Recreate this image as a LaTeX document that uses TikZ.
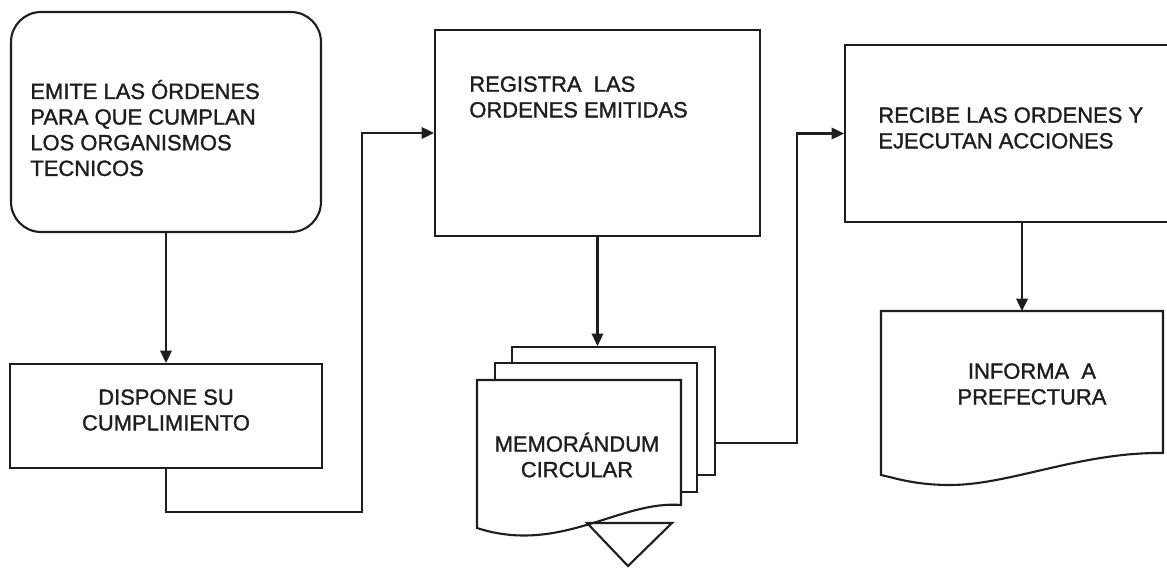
\documentclass[tikz,border=0pt]{standalone}
\usepackage{fontspec}
\setmainfont{Liberation Sans}[BoldFont=Liberation Sans, BoldFeatures={FakeBold=1.3}]
\usepackage{xcolor}
\usepackage{tikz}
\usetikzlibrary{
    arrows.meta,
    positioning
}
\definecolor{ink}{HTML}{1E1E1E}
\tikzstyle{box} = [
    rectangle, draw=ink,
    line width=1.2pt,
    inner sep=0pt,
    fill=white
]
\tikzstyle{txt} = [
    inner sep=0pt,
    text=ink,
    font=\fontsize{12.5}{14.6}\selectfont\bfseries
]
\tikzstyle{outline} = [
    draw=ink,
    line width=1.2pt,
    line join=miter
]
\tikzstyle{arrow} = [
    draw=ink,
    line width=1.2pt,
    ->,
    >={Triangle[length=7pt,width=6.5pt]}
]

\begin{document}
\begin{tikzpicture}[x=0.02cm, y=-0.02cm]
    \useasboundingbox (0,0) rectangle (1167,568);

    \node[box, rounded corners=0.6cm, minimum width=6.2cm, minimum height=4.4cm] (emite) at (166,122) {};
    \node[txt, anchor=west, align=left] (emitetxt) at (30,128) {EMITE LAS ÓRDENES\\PARA QUE CUMPLAN\\LOS ORGANISMOS\\TECNICOS};

    \node[box, minimum width=6.24cm, minimum height=2.08cm] (dispone) at (166,416) {};
    \node[txt, align=center] (disponetxt) at (166,410) {DISPONE SU\\CUMPLIMIENTO};

    \node[box, minimum width=6.5cm, minimum height=4.12cm] (registra) at (597.5,133) {};
    \node[txt, anchor=west, align=left] (registratxt) at (469,97) {REGISTRA\ \ LAS\\ORDENES EMITIDAS};

    \node[box, minimum width=7.08cm, minimum height=3.54cm] (recibe) at (1022,133.5) {};
    \node[txt, anchor=west, align=left] (recibetxt) at (878,128) {RECIBE LAS ORDENES Y\\EJECUTAN ACCIONES};

    \node[box, minimum width=4.06cm, minimum height=2.56cm] (memoback) at (613.5,411) {};
    \node[box, minimum width=4.04cm, minimum height=2.58cm] (memomid) at (596,427.5) {};
    \path[outline, fill=white] (477,380) -- (681,380) -- (681,505)
        .. controls (620,500) and (560,555) .. (477,528) -- cycle;
    \path[outline] (587,523) -- (672,523) -- (628,566) -- cycle;
    \node[txt, align=center] (memo) at (577,455) {MEMORÁNDUM\\CIRCULAR};

    \path[outline, fill=white] (881,311) -- (1163,311) -- (1163,453)
        .. controls (1080,452) and (1010,485) .. (950,485)
        .. controls (915,485) and (895,478) .. (881,475) -- cycle;
    \node[txt, align=center] (informa) at (1032,384) {INFORMA\ \ A\\PREFECTURA};

    \coordinate (j1) at (362,512);
    \coordinate (j2) at (797,443);
    \coordinate (doctop) at (1022,311);

    \draw[arrow] (emite.south) -- (dispone.north);
    \draw[arrow] (dispone.south) |- (j1) |- (registra.west);
    \draw[arrow] (registra.south) -- (registra.south |- memoback.north);
    \draw[arrow] (memoback.east |- j2) -- (j2) |- (recibe.west);
    \draw[arrow] (recibe.south) -- (doctop);
\end{tikzpicture}
\end{document}
